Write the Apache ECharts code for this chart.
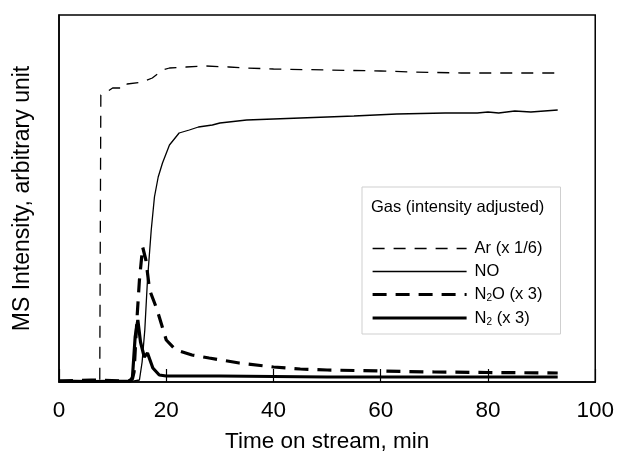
<!DOCTYPE html>
<html>
<head>
<meta charset="utf-8">
<script src="https://cdn.jsdelivr.net/npm/echarts@6/dist/echarts.min.js"></script>
<style>
  html, body { margin: 0; padding: 0; background: #fff; }
  #chart { width: 617px; height: 458px; }
</style>
</head>
<body>
<div id="chart"></div>
<script>
// values (arbitrary intensity units, 0 = baseline)
var arTime  = [0, 4, 7.6, 7.8, 8.9, 10, 12.4, 12.7, 15.6, 17.4, 19.3, 20.6, 23.7, 27.4, 31.7, 34.9, 40, 50, 60, 66, 75, 85, 93];
var arValue = [1, 1, 1, 287, 290, 294, 294, 298, 300, 304, 312, 314, 315, 316, 315, 314, 313, 312, 311, 310, 309, 309, 309];

var noTime  = [0, 13.5, 15, 15.5, 16, 16.5, 17.2, 17.8, 18.5, 19.3, 20.6, 22.4, 24.3, 26, 28.6, 30, 35, 40, 45, 50, 55, 63, 72, 78, 80, 82, 85, 88, 93];
var noValue = [0.5, 0.5, 2, 20, 52, 102, 152, 185, 205, 219, 237, 249, 252, 255, 257, 259, 262, 263, 264, 265, 266, 268, 269, 269, 270, 269, 271, 270, 272];

var n2oTime  = [0, 6, 13, 13.7, 14, 14.5, 15, 15.6, 16.2, 16.9, 18.1, 18.7, 20, 21.8, 24.8, 28, 33.6, 40, 45, 50, 60, 70, 80, 93];
var n2oValue = [1, 2, 1, 3, 10, 60, 102, 135, 122, 92, 75, 65, 42, 32, 27, 24, 19, 15, 13, 12, 11, 10, 9.5, 9];

var n2Time  = [0, 6, 13.3, 13.7, 14.2, 14.7, 15.2, 15.9, 16.5, 17.5, 18.7, 20, 30, 50, 93];
var n2Value = [1, 0.5, 1, 5, 45, 62, 40, 25, 29, 14, 7, 6, 6, 5, 5];

var xTicks = [0, 20, 40, 60, 80, 100];

function pairs(xs, ys) {
  return xs.map(function (x, i) { return [x, ys[i]]; });
}

var chart = echarts.init(document.getElementById('chart'));

var font = 'Liberation Sans, Arial, sans-serif';

chart.setOption({
  animation: false,
  color: ['#000'],
  textStyle: { fontFamily: font },
  title: {
    text: 'Gas (intensity adjusted)',
    left: 371,
    top: 199,
    padding: 0,
    textStyle: { fontSize: 16.5, fontWeight: 'normal', color: '#000', fontFamily: font }
  },
  grid: {
    left: 59, right: 19, top: 15, bottom: 76,
    show: true, borderColor: '#000', borderWidth: 1.5
  },
  legend: {
    orient: 'vertical',
    left: 362,
    top: 187,
    padding: [53, 18, 7, 9],
    borderColor: '#cfcfcf',
    borderWidth: 1,
    itemWidth: 94,
    itemHeight: 14,
    itemGap: 6,
    itemStyle: { opacity: 0 },
    data: [
      { name: 'Ar (x 1/6)', lineStyle: { width: 1.3, type: [12, 9], color: '#000' } },
      { name: 'NO', lineStyle: { width: 1.3, type: 'solid', color: '#000' } },
      { name: 'N2O (x 3)', lineStyle: { width: 3.2, type: [14, 9], color: '#000' } },
      { name: 'N2 (x 3)', lineStyle: { width: 3.2, type: 'solid', color: '#000' } }
    ],
    formatter: function (name) {
      if (name === 'N2O (x 3)') return '{a|N}{b|2}{a|O (x 3)}';
      if (name === 'N2 (x 3)') return '{a|N}{b|2}{a| (x 3)}';
      return '{a|' + name + '}';
    },
    textStyle: {
      color: '#000',
      padding: [0, 0, 0, 3],
      rich: {
        a: { fontSize: 16.5, lineHeight: 18, color: '#000', fontFamily: font },
        b: { fontSize: 10, lineHeight: 10, verticalAlign: 'bottom', color: '#000', fontFamily: font }
      }
    }
  },
  xAxis: {
    type: 'value',
    min: 0, max: 100, interval: 20,
    name: 'Time on stream, min',
    nameLocation: 'middle',
    nameGap: 48,
    nameTextStyle: { fontSize: 22.5, color: '#000', fontFamily: font },
    axisLine: { show: true, lineStyle: { color: '#000', width: 1.5 } },
    axisTick: { show: true, inside: true, length: 13, lineStyle: { color: '#000', width: 1.2 } },
    axisLabel: {
      fontSize: 22.5, color: '#000', margin: 17, fontFamily: font,
      customValues: xTicks
    },
    splitLine: { show: false }
  },
  yAxis: {
    type: 'value',
    min: 0, max: 367,
    name: 'MS Intensity, arbitrary unit',
    nameLocation: 'middle',
    nameGap: 25,
    nameTextStyle: { fontSize: 23, color: '#000', fontFamily: font },
    axisLine: { show: true, lineStyle: { color: '#000', width: 1.5 } },
    axisTick: { show: false },
    axisLabel: { show: false },
    splitLine: { show: false }
  },
  series: [
    {
      name: 'Ar (x 1/6)', type: 'line', symbol: 'none',
      data: pairs(arTime, arValue),
      itemStyle: { color: '#000' },
      lineStyle: { color: '#000', width: 1.3, type: [12, 9] }
    },
    {
      name: 'NO', type: 'line', symbol: 'none',
      data: pairs(noTime, noValue),
      itemStyle: { color: '#000' },
      lineStyle: { color: '#000', width: 1.3 }
    },
    {
      name: 'N2O (x 3)', type: 'line', symbol: 'none',
      data: pairs(n2oTime, n2oValue),
      itemStyle: { color: '#000' },
      lineStyle: { color: '#000', width: 3.2, type: [14, 9] }
    },
    {
      name: 'N2 (x 3)', type: 'line', symbol: 'none',
      data: pairs(n2Time, n2Value),
      itemStyle: { color: '#000' },
      lineStyle: { color: '#000', width: 3.2 }
    }
  ]
});
</script>
</body>
</html>
